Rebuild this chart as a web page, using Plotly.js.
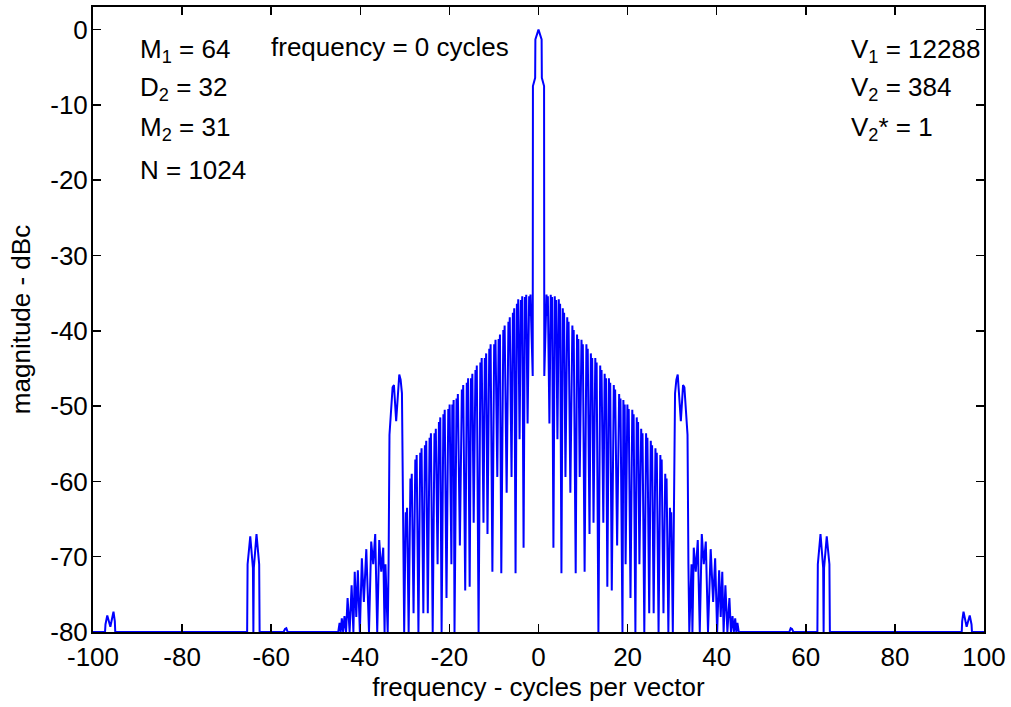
<!DOCTYPE html>
<html>
<head>
<meta charset="utf-8">
<script src="https://cdn.plot.ly/plotly-3.0.1.min.js"></script>
<style>
html,body{margin:0;padding:0;background:#fff;}
#chart{width:1011px;height:707px;}
</style>
</head>
<body>
<div id="chart"></div>
<script>
// Spectrum: frequency (cycles per vector) / magnitude (dBc), region by region.
const spur96LeftF = [-100, -97.3,-97.2,-96.8,-96.1,-95.4,-95.1,-95.0];
const spur96LeftM = [-80, -80,-79,-77.8,-79.3,-77.3,-78.6,-80];
const spur63LeftF = [-65.4,-65.3,-64.7,-64.1,-64.0,-63.9,-63.3,-62.7,-62.6];
const spur63LeftM = [-80,-71,-67.3,-71.5,-80,-71.5,-67,-71,-80];
const blip57LeftF = [-57.2,-56.9,-56.6,-56.3];
const blip57LeftM = [-80,-79.6,-79.5,-80];
const outerLeftF = [-44.95,-44.65,-44.4,-44.15,-43.85,-43.55,-43.2,-42.85,-42.4,-41.95,-41.55,-41.25,-40.9,-40.55,-40.1,-39.65,-39.2,-38.65,-38.05,-37.55,-37.1,-36.65,-36.2,-35.75,-35.3,-34.85,-34.55,-34.35];
const outerLeftM = [-80,-78.8,-80,-78.2,-80,-77.9,-80,-75.5,-80,-73.8,-80,-72,-78,-71.8,-80,-70.2,-76,-69,-80,-68,-71,-67,-80,-67.8,-72,-68.8,-80,-71];
const spur31LeftF = [-33.85,-33.65,-33.45,-32.75,-32.45,-31.95,-31.25,-30.95,-30.65,-30.4];
const spur31LeftM = [-80,-71,-53.8,-47.5,-47.2,-52,-45.8,-46.5,-48.3,-64];
const innerLeftF = [
-30.15, -29.8,-29.65,-29.5, -29.15, -28.75,-28.6,-28.45, -28.05, -27.65,-27.5,-27.35,
-26.95, -26.55,-26.4,-26.25, -25.85, -25.5,-25.35,-25.2, -24.85, -24.45,-24.3,-24.15,
-23.75, -23.35,-23.2,-23.05, -22.65, -22.35,-22.2,-22.05, -21.75, -21.35,-21.2,-21.05,
-20.65, -20.25,-20.1,-19.95, -19.55, -19.35,-19.2,-19.05, -18.85, -18.4,-18.25,-18.1,
-17.65, -17.2,-17.05,-16.9, -16.45, -16.1,-15.95,-15.8, -15.45, -15.15,-15.0,-14.85,
-14.55, -14.15,-14.0,-13.85, -13.45, -13.05,-12.9,-12.75, -12.35, -12.05,-11.9,-11.75,
-11.45, -11.05,-10.9,-10.75, -10.35, -9.95,-9.8,-9.65, -9.25, -8.95,-8.8,-8.65,
-8.35, -7.9,-7.75,-7.6, -7.15, -6.75,-6.6,-6.45, -6.05, -5.75,-5.6,-5.45,
-5.15, -4.85,-4.7,-4.55, -4.25, -3.95,-3.8,-3.65, -3.35, -3.05,-2.9,-2.75,
-2.45, -2.1,-1.95,-1.8];
const innerLeftM = [
-80, -64.1,-66,-63.5, -80, -59.6,-62.5,-59.0, -77.5, -57.1,-60.5,-56.5,
-80, -56.2,-59.5,-55.6, -77.5, -55.2,-58.5,-54.6, -77.5, -54.2,-57.5,-53.6,
-80, -53.6,-57,-53.0, -71.0, -52.1,-55.5,-51.5, -80, -51.1,-54.5,-50.5,
-75.5, -50.4,-54,-49.8, -71.0, -49.8,-53,-49.2, -80, -49,-52.5,-48.4,
-68.5, -47.8,-51.5,-47.2, -74.5, -46.9,-50.5,-46.3, -74.0, -46.3,-50,-45.7,
-65.5, -45.2,-49,-44.6, -80, -44.2,-48,-43.6, -65.5, -43.6,-47,-43.0,
-67.0, -42.4,-46,-41.8, -72.0, -41.8,-45,-41.2, -59.4, -41.1,-44.5,-40.5,
-72.2, -39.9,-43,-39.3, -61.5, -38.8,-42.5,-38.2, -59.4, -37.6,-41,-37.0,
-72.2, -36.4,-40.5,-35.8, -54.4, -35.9,-40,-35.4, -68.8, -35.5,-39,-35.2,
-52.3, -35.4,-38,-35.2];
const mainLobeF = [-1.3,-1.25,-0.75,-0.7,0,0.7,0.75,1.25,1.3];
const mainLobeM = [-46,-7.5,-6.4,-1.3,0,-1.3,-6.4,-7.5,-46];
const innerRightF = [
1.8,1.95,2.1, 2.45, 2.75,2.9,3.05, 3.35, 3.65,3.8,3.95, 4.25,
4.55,4.7,4.85, 5.15, 5.45,5.6,5.75, 6.05, 6.45,6.6,6.75, 7.15,
7.6,7.75,7.9, 8.35, 8.65,8.8,8.95, 9.25, 9.65,9.8,9.95, 10.35,
10.75,10.9,11.05, 11.45, 11.75,11.9,12.05, 12.35, 12.75,12.9,13.05, 13.45,
13.85,14.0,14.15, 14.55, 14.85,15.0,15.15, 15.45, 15.8,15.95,16.1, 16.45,
16.9,17.05,17.2, 17.65, 18.1,18.25,18.4, 18.85, 19.05,19.2,19.35, 19.55,
19.95,20.1,20.25, 20.65, 21.05,21.2,21.35, 21.75, 22.05,22.2,22.35, 22.65,
23.05,23.2,23.35, 23.75, 24.15,24.3,24.45, 24.85, 25.2,25.35,25.5, 25.85,
26.25,26.4,26.55, 26.95, 27.35,27.5,27.65, 28.05, 28.45,28.6,28.75, 29.15,
29.5,29.65,29.8, 30.15];
const innerRightM = [
-35.2,-38,-35.4, -52.3, -35.2,-39,-35.5, -68.8, -35.4,-40,-35.9, -54.4,
-35.8,-40.5,-36.4, -72.2, -37.0,-41,-37.6, -59.4, -38.2,-42.5,-38.8, -61.5,
-39.3,-43,-39.9, -72.2, -40.5,-44.5,-41.1, -59.4, -41.2,-45,-41.8, -72.0,
-41.8,-46,-42.4, -67.0, -43.0,-47,-43.6, -65.5, -43.6,-48,-44.2, -80,
-44.6,-49,-45.2, -65.5, -45.7,-50,-46.3, -74.0, -46.3,-50.5,-46.9, -74.5,
-47.2,-51.5,-47.8, -68.5, -48.4,-52.5,-49, -80, -49.2,-53,-49.8, -71.0,
-49.8,-54,-50.4, -75.5, -50.5,-54.5,-51.1, -80, -51.5,-55.5,-52.1, -71.0,
-53.0,-57,-53.6, -80, -53.6,-57.5,-54.2, -77.5, -54.6,-58.5,-55.2, -77.5,
-55.6,-59.5,-56.2, -80, -56.5,-60.5,-57.1, -77.5, -59.0,-62.5,-59.6, -80,
-63.5,-66,-64.1, -80];
const spur31RightF = [30.4,30.65,30.95,31.25,31.95,32.45,32.75,33.45,33.65,33.85];
const spur31RightM = [-64,-48.3,-46.5,-45.8,-52,-47.2,-47.5,-53.8,-71,-80];
const outerRightF = [34.35,34.55,34.85,35.3,35.75,36.2,36.65,37.1,37.55,38.05,38.65,39.2,39.65,40.1,40.55,40.9,41.25,41.55,41.95,42.4,42.85,43.2,43.55,43.85,44.15,44.4,44.65,44.95];
const outerRightM = [-71,-80,-68.8,-72,-67.8,-80,-67,-71,-68,-80,-69,-76,-70.2,-80,-71.8,-78,-72,-80,-73.8,-80,-75.5,-80,-77.9,-80,-78.2,-80,-78.8,-80];
const blip57RightF = [56.3,56.6,56.9,57.2];
const blip57RightM = [-80,-79.5,-79.6,-80];
const spur63RightF = [62.6,62.7,63.3,63.9,64.0,64.1,64.7,65.3,65.4];
const spur63RightM = [-80,-71,-67,-71.5,-80,-71.5,-67.3,-71,-80];
const spur96RightF = [95.0,95.1,95.4,96.1,96.8,97.2,97.3, 100];
const spur96RightM = [-80,-78.6,-77.3,-79.3,-77.8,-79,-80, -80];

const xTickVals = [-100,-80,-60,-40,-20,0,20,40,60,80,100];
const xTickText = ['-100','-80','-60','-40','-20','0','20','40','60','80','100'];
const yTickVals = [-80,-70,-60,-50,-40,-30,-20,-10,0];
const yTickText = ['-80','-70','-60','-50','-40','-30','-20','-10','0'];
const leftNotes = ['M<sub>1</sub> = 64','D<sub>2</sub> = 32','M<sub>2</sub> = 31','N = 1024'];
const rightNotes = ['V<sub>1</sub> = 12288','V<sub>2</sub> = 384','V<sub>2</sub>* = 1'];
const centerNote = 'frequency = 0 cycles';

const freq = [].concat(spur96LeftF, spur63LeftF, blip57LeftF, outerLeftF, spur31LeftF, innerLeftF,
  mainLobeF, innerRightF, spur31RightF, outerRightF, blip57RightF, spur63RightF, spur96RightF);
const magnitude = [].concat(spur96LeftM, spur63LeftM, blip57LeftM, outerLeftM, spur31LeftM, innerLeftM,
  mainLobeM, innerRightM, spur31RightM, outerRightM, blip57RightM, spur63RightM, spur96RightM);

const FONT = 'Liberation Sans, Arial, Helvetica, sans-serif';
const fs = 26;

const trace = {
  x: freq, y: magnitude, type: 'scatter', mode: 'lines',
  line: {color: '#0000FF', width: 2}, hoverinfo: 'skip'
};

const leftY = [0.930, 0.869, 0.805, 0.739];
const rightY = [0.930, 0.869, 0.805];
const annotations = [];
leftNotes.forEach((t, i) => annotations.push({
  text: t, xref: 'paper', yref: 'paper', x: 0.0505, y: leftY[i],
  xanchor: 'left', yanchor: 'middle', showarrow: false,
  font: {family: FONT, size: fs, color: '#000'}
}));
rightNotes.forEach((t, i) => annotations.push({
  text: t, xref: 'paper', yref: 'paper', x: 0.849, y: rightY[i],
  xanchor: 'left', yanchor: 'middle', showarrow: false,
  font: {family: FONT, size: fs, color: '#000'}
}));
annotations.push({
  text: centerNote, xref: 'paper', yref: 'paper', x: 0.1975, y: 0.936,
  xanchor: 'left', yanchor: 'middle', showarrow: false,
  font: {family: FONT, size: fs, color: '#000'}
});

const axisCommon = {
  showline: true, linewidth: 2, linecolor: '#000', mirror: 'ticks',
  ticks: 'inside', ticklen: 8, tickwidth: 1.5, tickcolor: '#000',
  showgrid: false, zeroline: false,
  tickfont: {family: FONT, size: fs, color: '#000'}
};

const layout = {
  width: 1011, height: 707,
  margin: {l: 93, r: 27, t: 7, b: 75, pad: 0},
  paper_bgcolor: '#fff', plot_bgcolor: '#fff',
  showlegend: false,
  xaxis: Object.assign({}, axisCommon, {
    range: [-100, 100], tickmode: 'array', tickvals: xTickVals, ticktext: xTickText,
    ticklabelstandoff: 1,
    title: {text: 'frequency - cycles per vector', font: {family: FONT, size: fs, color: '#000'}, standoff: 5}
  }),
  yaxis: Object.assign({}, axisCommon, {
    range: [-80, 3], tickmode: 'array', tickvals: yTickVals, ticktext: yTickText,
    ticklabelstandoff: -2,
    title: {text: 'magnitude - dBc', font: {family: FONT, size: fs, color: '#000'}, standoff: 12}
  }),
  annotations: annotations
};

Plotly.newPlot('chart', [trace], layout, {displayModeBar: false, staticPlot: true});
</script>
</body>
</html>
